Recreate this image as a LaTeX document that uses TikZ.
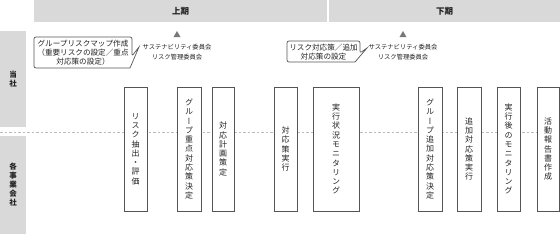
\documentclass[tikz,border=0pt]{standalone}
\usepackage{fontspec}
\setmainfont{Noto Sans CJK JP}
\newfontfamily\vfont{Noto Sans CJK JP}[RawFeature=+vert]
\usetikzlibrary{shapes.geometric}
\definecolor{hdr}{HTML}{D9D9D9}
\definecolor{txt}{HTML}{222222}
\definecolor{edge}{HTML}{555555}
\definecolor{dash}{HTML}{BBBBBB}
\definecolor{tri}{HTML}{777777}
\begin{document}
\begin{tikzpicture}[x=1pt,y=-1pt,
  hdrbox/.style={fill=hdr, draw=none, inner sep=0pt, text=txt},
  hdrtext/.style={font=\bfseries\fontsize{8.5}{10}\selectfont},
  lanetext/.style={align=center, font=\bfseries\fontsize{7.5}{9}\selectfont},
  stepbox/.style={draw=edge, line width=0.8pt, fill=white, minimum height=124pt,
    inner sep=0pt, align=center, text=txt, font=\vfont\fontsize{8}{9.3}\selectfont},
  dashline/.style={draw=dash, line width=0.7pt, dash pattern=on 2.5pt off 2pt},
  bubble/.style={draw=edge, line width=0.7pt, fill=white},
  bubbletext/.style={align=center, inner sep=0pt, text=txt, font=\fontsize{7.6}{9.3}\selectfont},
  committee/.style={align=center, inner sep=0pt, text=txt, font=\fontsize{6.3}{9.5}\selectfont},
  tritip/.style={regular polygon, regular polygon sides=3, fill=tri, draw=none, minimum size=8pt, inner sep=0pt}
]
\useasboundingbox (0,0) rectangle (560,234);

% period headers
\node[hdrbox, hdrtext, minimum width=293pt, minimum height=22pt] (h1) at (180.5,11) {上期};
\node[hdrbox, hdrtext, minimum width=231pt, minimum height=22pt] (h2) at (444.5,11) {下期};

% lanes
\node[hdrbox, lanetext, minimum width=26pt, minimum height=96pt] (l1) at (13,79) {当\\社};
\node[hdrbox, lanetext, minimum width=26pt, minimum height=98pt] (l2) at (13,185) {各\\事\\業\\会\\社};

% dashed divider
\coordinate (dl) at (0,132);
\coordinate (dr) at (537,132);
\draw[dashline] (dl) -- (dr);

% step boxes
\node[stepbox, minimum width=23pt] (b1) at (135.5,149) {リ\\ス\\ク\\抽\\出\\・\\評\\価};
\node[stepbox, minimum width=24pt] (b2) at (189,149) {グ\\ル\\ー\\プ\\重\\点\\対\\応\\策\\決\\定};
\node[stepbox, minimum width=22pt] (b3) at (223,149) {対\\応\\計\\画\\策\\定};
\node[stepbox, minimum width=23pt] (b4) at (285.5,149) {対\\応\\策\\実\\行};
\node[stepbox, minimum width=46pt] (b5) at (336,149) {実\\行\\状\\況\\モ\\ニ\\タ\\リ\\ン\\グ};
\node[stepbox, minimum width=24pt] (b6) at (430,149) {グ\\ル\\ー\\プ\\追\\加\\対\\応\\策\\決\\定};
\node[stepbox, minimum width=24pt] (b7) at (469,149) {追\\加\\対\\応\\策\\実\\行};
\node[stepbox, minimum width=23pt] (b8) at (508.5,149) {実\\行\\後\\の\\モ\\ニ\\タ\\リ\\ン\\グ};
\node[stepbox, minimum width=22pt] (b9) at (548,149) {活\\動\\報\\告\\書\\作\\成};

% callouts
\draw[bubble] (34,39) [rounded corners=2pt] -- (34,37) -- (132,37) -- (132,56) [sharp corners] -- (139,47) -- (130,68) [rounded corners=2pt] -- (34,68) -- (34,39);
\node[bubbletext] (c1) at (83,52.5) {グループリスクマップ作成\\（重要リスクの設定／重点\\対応策の設定）};
\draw[bubble] (287,43) [rounded corners=2pt] -- (287,41) -- (360,41) -- (360,53) [sharp corners] -- (367,48) -- (355,62) [rounded corners=2pt] -- (287,62) -- (287,43);
\node[bubbletext] (c2) at (323.5,52) {リスク対応策／追加\\対応策の設定};

% committee marks
\node[tritip] (t1) at (177,35) {};
\node[committee] (m1) at (177,52) {サステナビリティ委員会\\リスク管理委員会};
\node[tritip] (t2) at (403,35) {};
\node[committee] (m2) at (403,52) {サステナビリティ委員会\\リスク管理委員会};
\end{tikzpicture}
\end{document}
